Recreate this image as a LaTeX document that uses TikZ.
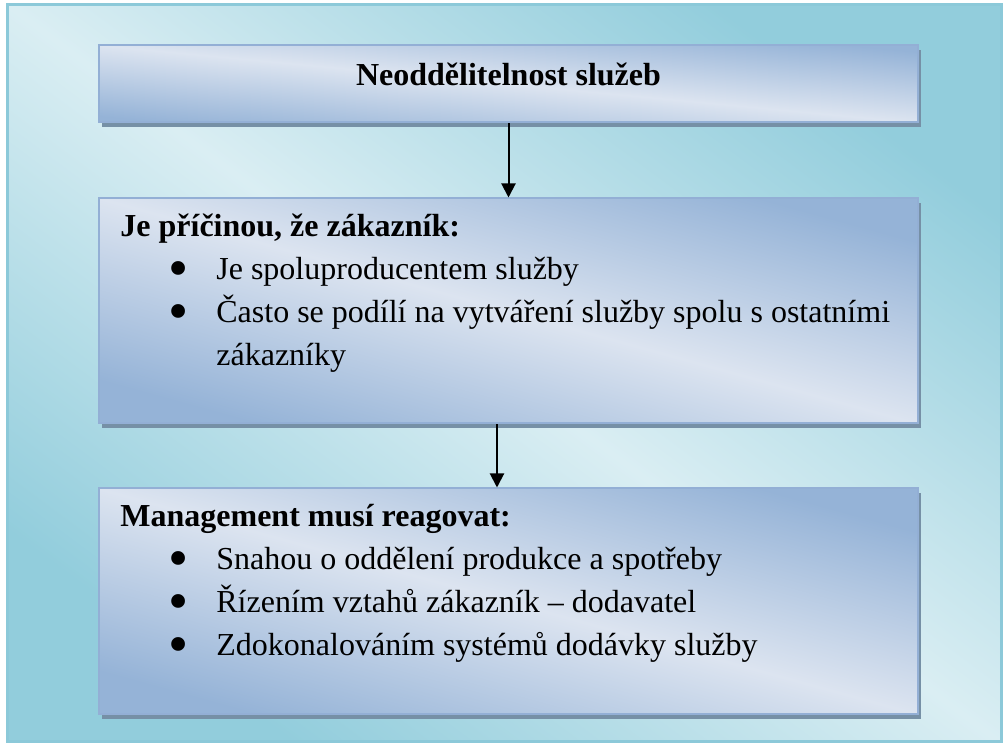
\documentclass[tikz,border=0pt]{standalone}
\usepackage{fontspec}
\setmainfont{Liberation Serif}
\usepackage{graphicx}
\usepackage{tikz}
\usetikzlibrary{positioning, arrows.meta, shadows}
\definecolor{frameLight}{HTML}{DAEEF3}
\definecolor{frameDark}{HTML}{92CDDC}
\definecolor{frameLine}{HTML}{8CC9D9}
\definecolor{panelLight}{HTML}{DCE4F0}
\definecolor{panelDark}{HTML}{95B3D7}
\definecolor{panelLine}{HTML}{93AFD5}
\definecolor{panelShadow}{HTML}{7690A6}

\newcommand{\bodmark}{\raisebox{-0.22em}{\scalebox{1.8}{\textbullet}}}
\newenvironment{bodlist}{%
  \begin{list}{\bodmark}{%
    \setlength{\leftmargin}{48pt}\setlength{\labelwidth}{34pt}%
    \setlength{\labelsep}{14pt}\setlength{\topsep}{0pt}%
    \setlength{\partopsep}{0pt}\setlength{\itemsep}{0pt}%
    \setlength{\parsep}{0pt}}}%
  {\end{list}}

\begin{document}
\begin{tikzpicture}[
  x=0.5pt, y=0.5pt,
  every node/.style={font=\fontsize{16}{21.5}\selectfont},
  frame/.style={
    draw=frameLine, line width=1.5pt,
    left color=frameDark, right color=frameDark, middle color=frameLight,
    shading angle=143.4
  },
  panel/.style={
    rectangle, draw=panelLine, line width=1pt,
    minimum width=409.5pt, minimum height=#1, inner sep=0pt,
    left color=panelDark, right color=panelDark, middle color=panelLight,
    shading angle=164.6,
    drop shadow={shadow xshift=1.5pt, shadow yshift=-2.5pt,
      fill=panelShadow, opacity=1}
  },
  panel/.default=38.5pt,
  listtext/.style={text width=395pt, inner sep=0pt, align=flush left,
    execute at begin node={\spaceskip=0pt\relax\xspaceskip=0pt\relax}},
  flow/.style={-{Triangle[length=7pt, width=7pt]}, line width=1pt, black},
]
\useasboundingbox (0,0) rectangle (1003,744);

% === BACKGROUND ===
\draw[frame] (7,2) rectangle (1001,739);

% === BOXES ===
\node[panel, shading angle=174.6, text height=12pt, text depth=10pt]
  (b1) at (508.5,660) {\textbf{Neoddělitelnost služeb}};

\node[panel=112.5pt, below=37pt of b1] (b2) {};

\node[panel=113pt, below=31.5pt of b2] (b3) {};

% === Box texts ===
\node[listtext, below right=19.75pt and 11pt of b2.north west,
  anchor=base west] (t2) {%
  \textbf{Je příčinou, že zákazník:}
  \begin{bodlist}
    \item Je spoluproducentem služby
    \item Často se podílí na vytváření služby spolu s ostatními zákazníky
  \end{bodlist}};

\node[listtext, below right=19.75pt and 11pt of b3.north west,
  anchor=base west] (t3) {%
  \textbf{Management musí reagovat:}
  \begin{bodlist}
    \item Snahou o oddělení produkce a spotřeby
    \item Řízením vztahů zákazník -- dodavatel
    \item Zdokonalováním systémů dodávky služby
  \end{bodlist}};

% === Arrows ===
\draw[flow] (b1.south) -- (b2.north);
\draw[flow] ([xshift=-5.75pt]b2.south) -- ([xshift=-5.75pt]b3.north);

\end{tikzpicture}
\end{document}
